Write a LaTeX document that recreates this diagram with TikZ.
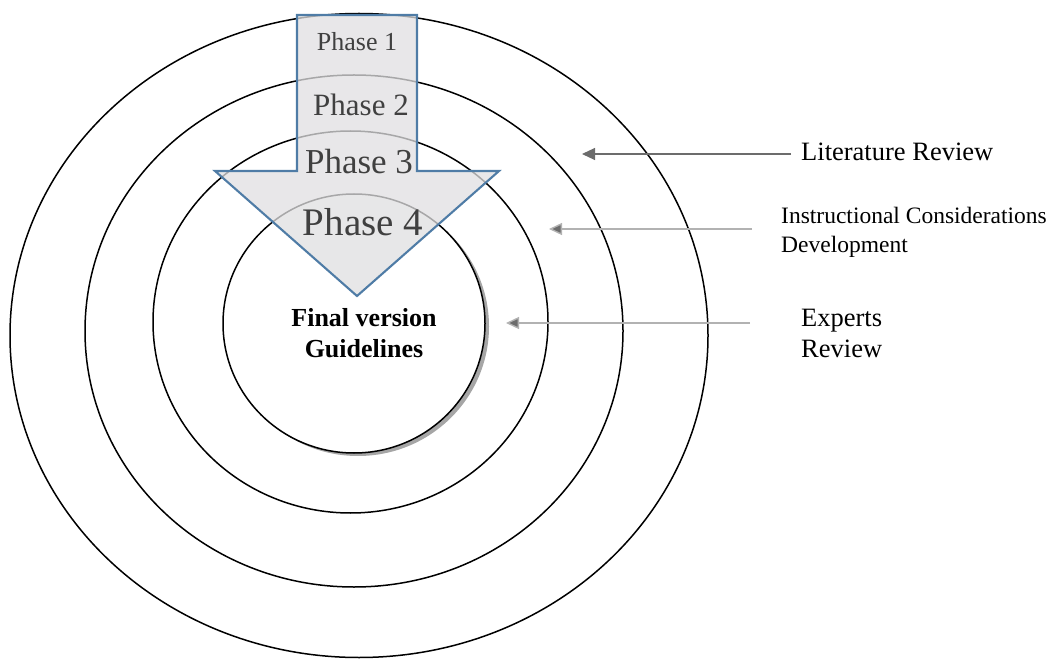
\documentclass[tikz,border=0pt]{standalone}
\usepackage{fontspec}
\setmainfont{Liberation Serif}
\usetikzlibrary{arrows.meta,shapes.geometric}
\definecolor{arrowfill}{HTML}{E0DFE1}
\definecolor{arrowline}{HTML}{4F7CA6}
\definecolor{phasetext}{HTML}{404040}
\tikzset{
  ring/.style={draw=black,line width=1.5pt},
  pointer/.style={draw=gray!85!black,line width=1.1pt,-{Triangle[length=13pt,width=12pt]}},
  pointerlight/.style={draw=gray!60,line width=1.4pt,-{Triangle[length=13pt,width=12pt,fill=gray!85!black]}},
  phaselbl/.style={text=phasetext,inner sep=0pt},
  sidelbl/.style={anchor=west,align=left,inner sep=0pt},
}
\begin{document}
\begin{tikzpicture}[x=1pt,y=-1pt]
\useasboundingbox (0,0) rectangle (1060,660);
% rings
\draw[ring] (359,335.5) ellipse [x radius=349, y radius=322];
\draw[ring] (354,331) ellipse [x radius=269, y radius=256];
\draw[ring] (350.5,322) ellipse [x radius=197.5, y radius=191];
% inner circle with shadow
\fill[gray!70] (358,326.5) ellipse [x radius=131, y radius=129.5];
\draw[ring,fill=white] (354,323.5) ellipse [x radius=131, y radius=129.5];
% big arrow
\draw[arrowline,line width=2.1pt,fill=arrowfill,fill opacity=0.75,line join=miter]
  (297,15) -- (417,15) -- (417,171) -- (499,171) -- (357,296) -- (215,171) -- (297,171) -- cycle;
% phase labels
\node[phaselbl,font=\fontsize{26}{30}\selectfont] (p1) at (357,42) {Phase 1};
\node[phaselbl,font=\fontsize{31}{36}\selectfont] (p2) at (361,105) {Phase 2};
\node[phaselbl,font=\fontsize{35}{40}\selectfont] (p3) at (359,162) {Phase 3};
\node[phaselbl,font=\fontsize{39}{44}\selectfont] (p4) at (363,222) {Phase 4};
% centre
\node[align=center,inner sep=0pt,font=\fontsize{26}{31}\selectfont\bfseries] (fin) at (364,333) {Final version\\Guidelines};
% side labels
\node[sidelbl,font=\fontsize{26.5}{31}\selectfont] (lit) at (801,152) {Literature Review};
\node[sidelbl,font=\fontsize{23.5}{29}\selectfont] (ins) at (781,232.5) {Instructional Considerations\\Development};
\node[sidelbl,font=\fontsize{26.5}{31}\selectfont] (exp) at (801,333) {Experts\\Review};
% pointers
\coordinate (litS) at (791,154);
\coordinate (litE) at (582,154);
\coordinate (insS) at (752,229);
\coordinate (insE) at (549,229);
\coordinate (expS) at (750,323);
\coordinate (expE) at (506,323);
\draw[pointer] (litS) -- (litE);
\draw[pointerlight] (insS) -- (insE);
\draw[pointerlight] (expS) -- (expE);
\end{tikzpicture}
\end{document}
